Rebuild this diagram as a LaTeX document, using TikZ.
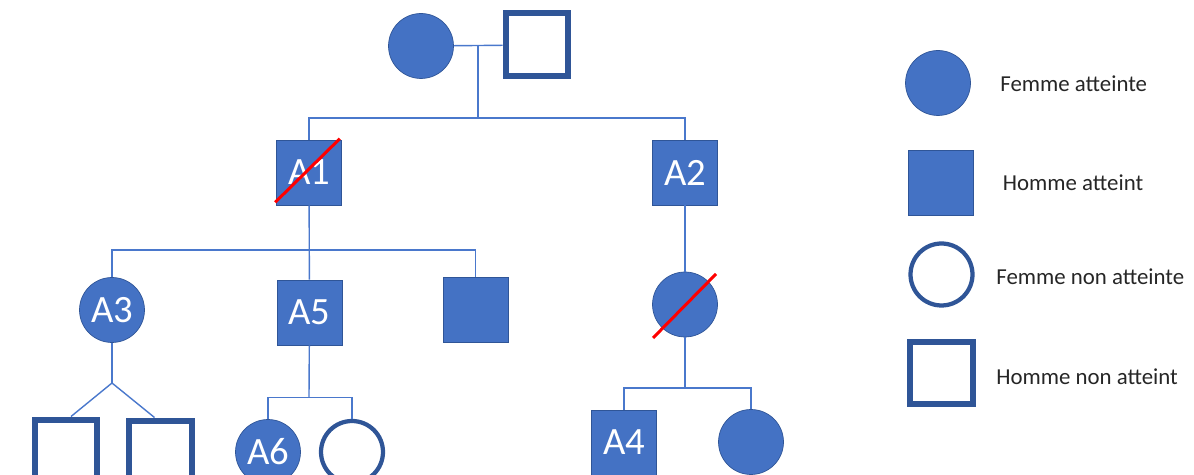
\documentclass[tikz,border=0pt]{standalone}
\usepackage{fontspec}
\setmainfont{Carlito}
\definecolor{atteint}{HTML}{4472C4}
\definecolor{bord}{HTML}{2F5597}
\definecolor{trait}{HTML}{4A78CC}
\tikzset{
  femme/.style={circle, fill=atteint, draw=bord, line width=0.4pt, minimum size=1.3cm,
    inner sep=0pt, text=white, font=\fontsize{22}{22}\selectfont},
  homme/.style={rectangle, fill=atteint, draw=bord, line width=0.4pt, minimum size=1.3cm,
    inner sep=0pt, text=white, font=\fontsize{22}{22}\selectfont},
  femmesaine/.style={circle, draw=bord, fill=white, line width=0.085cm, minimum size=1.24cm, inner sep=0pt},
  hommesain/.style={rectangle, draw=bord, fill=white, line width=0.12cm, minimum size=1.26cm, inner sep=0pt},
  lien/.style={draw=trait, line width=0.028cm},
  decede/.style={draw=red, line width=0.06cm},
  legende/.style={anchor=west, inner sep=0pt, text=black!85, font=\fontsize{13}{15}\selectfont}
}
\begin{document}
\begin{tikzpicture}[x=0.02cm, y=-0.02cm]
  \useasboundingbox (0,0) rectangle (1194,475);
  % Grands-parents
  \node[femme] (gm) at (421,46) {};
  \node[hommesain] (gp) at (537,45) {};
  \coordinate (union) at (478,46);
  \coordinate (fratrie1) at (478,118);
  \draw[lien] (gm) -- (gp);
  \draw[lien] (union) -- (fratrie1);
  % Generation II
  \node[homme] (A1) at (309,172.5) {A1};
  \node[homme] (A2) at (685,172.5) {A2};
  \draw[lien] (A1.north) |- (fratrie1) -| (A2.north);
  \draw[decede] ([shift={(-1,-3)}]A1.south west) -- ([shift={(-2,-1)}]A1.north east);
  % Generation III, branche A1
  \coordinate (fratrie2) at (309,250);
  \node[femme] (A3) at (112,310) {A3};
  \node[homme] (A5) at (309.5,312.5) {A5};
  \node[homme] (H3) at (475.5,309.5) {};
  \draw[lien] (A1) -- (A5);
  \draw[lien] (A3.north) |- (fratrie2) -| (H3.north);
  % Generation III, branche A2
  \node[femme] (F3) at (685,304.5) {};
  \draw[lien] (A2) -- (F3);
  \draw[decede] ([shift={(-32,33.5)}]F3.center) -- ([shift={(31,-30.5)}]F3.center);
  % Generation IV : jumeaux de A3
  \coordinate (jumeaux) at (112,383);
  \node[hommesain] (J1) at (66,451) {};
  \node[hommesain] (J2) at (160.5,452) {};
  \draw[lien] (A3) -- (jumeaux);
  \draw[lien] ([shift={(5,0)}]J1.north) -- (jumeaux) -- ([shift={(-6,0)}]J2.north);
  % Generation IV : enfants de A5
  \coordinate (fratrie4) at (309,397.5);
  \node[femme] (A6) at (268,452) {A6};
  \node[femmesaine] (F6) at (352,452) {};
  \draw[lien] (A5) -- (fratrie4);
  \draw[lien] (A6.north) |- (fratrie4) -| (F6.north);
  % Generation IV : enfants de F3
  \coordinate (fratrie5) at (685,388);
  \node[homme] (A4) at (624,442.5) {A4};
  \node[femme] (F4) at (751,442) {};
  \draw[lien] (F3) -- (fratrie5);
  \draw[lien] (A4.north) |- (fratrie5) -| (F4.north);
  % Legende
  \node[femme] (lf) at (938,83) {};
  \node[legende] (tf) at (1000,84) {Femme atteinte};
  \node[homme] (lh) at (940.5,182.5) {};
  \node[legende] (th) at (1002.5,183) {Homme atteint};
  \node[femmesaine] (lfs) at (941.5,274.5) {};
  \node[legende] (tfs) at (996,277) {Femme non atteinte};
  \node[hommesain] (lhs) at (941,373) {};
  \node[legende] (ths) at (996,377) {Homme non atteint};
\end{tikzpicture}
\end{document}
